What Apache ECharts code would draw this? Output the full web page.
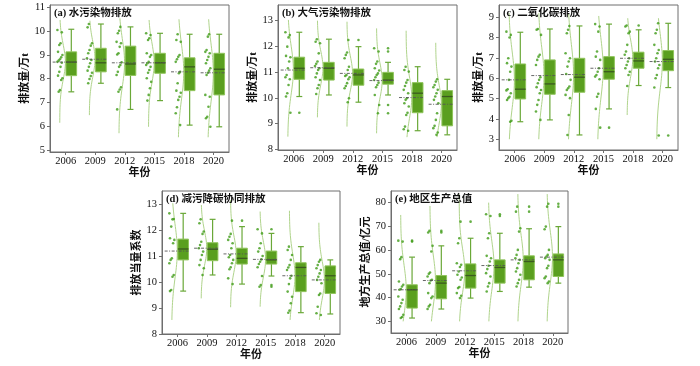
<!DOCTYPE html>
<html><head><meta charset="utf-8">
<script src="https://cdn.jsdelivr.net/npm/echarts@6/dist/echarts.min.js"></script>
<style>html,body{margin:0;padding:0;background:#fff}#c{width:700px;height:366px}</style>
</head><body><div id="c"></div>
<script>
const years = ['2006','2009','2012','2015','2018','2020'];

// (a) 水污染物排放
const aDots = [
  [10.05,9.95,9.49,9.42,9.13,9.0,8.9,8.82,8.76,8.71,8.67,8.5,8.29,8.13,8.02,7.95,7.52,7.45],
  [10.3,10.16,9.49,9.39,9.21,9.07,8.86,8.79,8.65,8.5,8.34,8.25,8.11,7.99,7.81],
  [10.18,10.02,9.91,9.55,9.49,9.34,9.07,9.02,8.69,8.58,8.5,8.29,8.16,7.64,7.55,7.45,6.71],
  [9.91,9.84,9.7,9.63,9.07,9.0,8.92,8.71,8.65,8.58,8.5,8.37,8.25,8.02,7.87,7.6,7.32,7.08],
  [9.87,9.63,9.55,9.0,8.92,8.82,8.71,8.29,8.23,7.81,7.5,7.41,7.24,7.11,6.8,6.55,6.05],
  [9.87,9.77,9.21,9.13,9.07,8.92,8.79,8.65,8.44,8.34,8.25,8.16,7.32,7.24,6.82,6.4,6.34,5.98]
];
const aBox = [[7.45,8.13,8.7,9.13,10.08],[7.81,8.29,8.67,9.28,10.3],[6.71,8.14,8.62,9.37,10.18],[7.08,8.23,8.67,9.07,9.91],[6.05,7.5,8.5,8.88,9.87],[5.98,7.32,8.4,9.07,9.87]];
const aMean = [8.7,8.82,8.67,8.67,8.29,8.25];
const aOut = [[],[],[],[],[],[]];
const aCurve = [[6.15,10.47],[6.47,10.44],[5.71,10.54],[5.98,10.47],[5.54,10.5],[5.54,10.5]];
const aTicks = [5,6,7,8,9,10,11];

// (b) 大气污染物排放
const bDots = [
  [12.55,12.44,12.35,11.99,11.63,11.58,11.41,11.15,10.89,10.8,10.72,10.5,10.18,10.05,9.42],
  [12.28,12.18,12.12,11.73,11.41,11.32,11.24,11.15,11.08,10.95,10.8,10.69,10.5,10.37,10.15],
  [12.25,11.76,11.67,11.54,11.21,11.08,10.89,10.85,10.8,10.72,10.57,10.46,10.37,9.98,9.83],
  [11.93,11.8,11.41,11.32,11.15,11.06,10.95,10.89,10.8,10.69,10.59,10.5,10.41,10.11,9.72,9.4],
  [11.21,11.08,11.02,10.69,10.59,10.46,10.31,10.18,9.98,9.92,9.79,9.66,9.42,9.33,8.88,8.78,8.72],
  [10.72,10.63,10.5,10.41,10.31,10.18,10.05,9.92,9.79,9.4,9.14,8.91,8.82,8.65,8.56]
];
const bBox = [[10.05,10.72,11.15,11.58,12.55],[10.11,10.69,11.15,11.38,12.28],[9.83,10.49,10.89,11.12,11.99],[10.11,10.53,10.69,10.99,11.38],[8.72,9.42,10.18,10.59,11.21],[8.56,8.91,10.05,10.28,10.72]];
const bMean = [11.08,11.17,10.95,10.67,10.01,9.75];
const bOut = [[9.42],[],[12.25],[11.93,11.8,9.72,9.4],[],[]];
const bCurve = [[8.49,13.03],[9.24,13.0],[8.88,12.96],[8.62,12.7],[8.47,12.61],[8.47,12.14]];
const bTicks = [8,9,10,11,12,13];

// (c) 二氧化碳排放
const cDots = [
  [8.29,8.13,8.0,6.98,6.74,6.57,6.32,5.92,5.46,5.4,5.26,5.09,5.02,4.93,3.91,3.86],
  [8.42,8.38,8.13,7.15,7.06,6.9,6.65,6.05,5.92,5.75,5.56,5.42,5.26,4.93,4.69,4.36,3.95],
  [8.57,8.38,8.21,7.23,6.98,6.82,6.57,6.21,5.92,5.59,5.51,5.42,5.18,5.02,4.19,3.21],
  [8.66,8.54,8.29,7.31,7.06,6.9,6.49,6.32,6.16,6.08,5.95,5.23,5.09,4.49,3.57],
  [8.59,8.54,8.29,8.21,7.64,7.31,7.15,6.98,6.82,6.65,6.49,6.32,6.16,5.62],
  [8.7,8.38,8.21,7.64,7.39,7.23,6.98,6.82,6.65,6.49,6.16,6.0,5.54,3.18]
];
const cBox = [[3.86,4.98,5.46,6.7,8.26],[3.95,5.21,5.72,6.9,8.42],[3.21,5.31,6.05,6.98,8.57],[4.49,5.95,6.32,7.06,8.66],[5.64,6.49,6.85,7.28,8.38],[5.54,6.37,6.93,7.36,8.7]];
const cMean = [5.92,6.13,6.18,6.49,6.98,6.82];
const cOut = [[],[],[],[3.57],[8.59],[3.18]];
const cCurve = [[3.0,9.2],[3.0,9.2],[3.0,9.2],[3.0,9.06],[4.19,8.95],[3.0,8.95]];
const cTicks = [3,4,5,6,7,8,9];

// (d) 减污降碳协同排放
const dDots = [
  [12.64,12.42,12.41,12.13,11.68,11.62,11.49,10.91,10.85,10.72,10.27,10.2,9.69,9.65],
  [12.41,12.26,11.94,11.85,11.55,11.42,11.3,11.17,11.04,10.85,10.65,10.53,10.27],
  [12.36,11.85,11.74,11.62,11.49,11.3,11.04,10.95,10.85,10.72,10.57,10.49,10.14,9.92],
  [12.03,11.87,11.49,11.3,11.17,11.0,10.87,10.78,10.69,10.57,10.23,9.88,9.82],
  [11.36,11.23,11.04,10.85,10.65,10.56,10.46,10.24,10.14,9.92,9.63,9.43,9.18,8.9,8.82],
  [10.85,10.78,10.65,10.53,10.46,10.33,10.2,10.08,9.95,9.56,9.5,9.05,8.8,8.73]
];
const dBox = [[9.65,10.85,11.27,11.65,12.64],[10.27,10.82,11.26,11.51,12.41],[9.92,10.69,10.91,11.3,12.13],[10.23,10.69,10.85,11.19,11.87],[8.82,9.63,10.56,10.74,11.36],[8.77,9.56,10.24,10.62,10.85]];
const dMean = [11.19,11.3,11.08,10.87,10.24,10.08];
const dOut = [[],[],[12.36],[12.03,9.88,9.82],[],[]];
const dCurve = [[8.54,13.03],[9.37,12.96],[9.03,13.15],[9.05,12.71],[8.54,12.74],[8.54,12.28]];
const dTicks = [8,9,10,11,12,13];

// (e) 地区生产总值
const eDots = [
  [64.0,63.6,57.05,56.2,46.8,45.4,44.7,43.6,43.3,40.5,39.1,37.7,36.3,35.2,32.8,31.85,31.4],
  [68.1,67.4,61.8,59.4,50.6,50.0,48.9,47.5,47.2,46.1,41.9,40.5,39.8,37.0,36.3,35.2],
  [72.0,65.0,62.9,54.5,53.8,52.9,51.0,49.6,48.5,47.5,44.5,44.0,41.9,40.8,39.8],
  [75.1,74.4,67.1,65.0,57.6,56.6,55.2,53.4,52.0,50.3,48.9,46.1,44.7,42.6],
  [78.3,76.2,69.2,67.8,60.1,58.0,56.6,55.9,54.5,52.4,51.0,49.6,47.5,46.1,44.7],
  [79.5,78.3,69.9,68.8,60.1,58.0,57.3,56.6,55.9,53.4,52.4,48.9,48.2,46.8,46.1]
];
const eBox = [[31.4,35.6,43.3,45.4,57.05],[35.2,39.5,46.1,49.3,61.8],[39.8,44.0,49.3,54.2,65.0],[42.6,46.1,52.7,55.9,67.1],[44.4,47.5,55.2,57.6,69.0],[46.1,48.9,55.9,58.4,69.9]];
const eMean = [43.3,47.2,51.3,53.5,55.9,57.05];
const eOut = [[64.0,63.6],[68.1,67.4],[72.0],[75.1,74.4],[78.3,76.2],[79.5,78.3]];
const eCurve = [[30,74.8],[30,78.6],[30,83.6],[30,80],[30,83.6],[30,83.6]];
const eTicks = [30,40,50,60,70,80];

const FONT = "'Liberation Serif','Noto Sans CJK SC',serif";
const panels = [
  {title:'(a) 水污染物排放', yName:'排放量/万t', dots:aDots, box:aBox, mean:aMean, out:aOut, curve:aCurve, ticks:aTicks, g:[50,5,179,147], ymin:4.92, ymax:11.1, ng:11},
  {title:'(b) 大气污染物排放', yName:'排放量/万t', dots:bDots, box:bBox, mean:bMean, out:bOut, curve:bCurve, ticks:bTicks, g:[278,5,179,145], ymin:7.97, ymax:13.61, ng:11},
  {title:'(c) 二氧化碳排放', yName:'排放量/万t', dots:cDots, box:cBox, mean:cMean, out:cOut, curve:cCurve, ticks:cTicks, g:[499,5,179,145], ymin:2.47, ymax:9.6, ng:11},
  {title:'(d) 减污降碳协同排放', yName:'排放当量系数', dots:dDots, box:dBox, mean:dMean, out:dOut, curve:dCurve, ticks:dTicks, g:[162,191,178,143], ymin:8.0, ymax:13.5, ng:13},
  {title:'(e) 地区生产总值', yName:'地方生产总值/亿元', dots:eDots, box:eBox, mean:eMean, out:eOut, curve:eCurve, ticks:eTicks, g:[391,191,177,142], ymin:25.1, ymax:84.9, ng:14}
];

const FRAME = '#6e6e6e';
const C_BOX = '#5a9f1f', C_BOXB = '#8fc45a', C_WH = '#6aa838', C_MED = '#3b5a1f', C_MEAN = '#555555';
const C_DOT = '#3f9b17', C_CURVE = '#b0d48c';
const XMIN = -0.53, XMAX = 5.52;
const BOX_OFF = 0.19, BOX_HW = 0.18, CAP_HW = 0.1;

function sdOf(a){const m=a.reduce((s,v)=>s+v,0)/a.length;return Math.sqrt(a.reduce((s,v)=>s+(v-m)*(v-m),0)/(a.length-1));}

function renderBox(params, api){
  const i = api.value(0), c = i + BOX_OFF;
  const pt = (x, y) => api.coord([x, y]);
  const yMin = pt(c, api.value(1))[1], yQ1 = pt(c, api.value(2))[1], yMed = pt(c, api.value(3))[1];
  const yQ3 = pt(c, api.value(4))[1], yMax = pt(c, api.value(5))[1], yMean = pt(c, api.value(6))[1];
  const xc = pt(c, 0)[0], xl = pt(c - BOX_HW, 0)[0], xr = pt(c + BOX_HW, 0)[0];
  const cl = pt(c - CAP_HW, 0)[0], cr = pt(c + CAP_HW, 0)[0];
  const xm0 = pt(i - 0.44, 0)[0];
  const ln = (x1,y1,x2,y2,style) => ({type:'line', shape:{x1,y1,x2,y2}, style});
  const ws = {stroke:C_WH, lineWidth:1.2};
  return {type:'group', children:[
    ln(xc,yMax,xc,yQ3,ws), ln(xc,yQ1,xc,yMin,ws),
    ln(cl,yMax,cr,yMax,ws), ln(cl,yMin,cr,yMin,ws),
    {type:'rect', shape:{x:xl, y:yQ3, width:xr-xl, height:yQ1-yQ3}, style:{fill:C_BOX, stroke:C_BOXB, lineWidth:1}},
    ln(xl,yMed,xr,yMed,{stroke:C_MED, lineWidth:1.3}),
    ln(xm0,yMean,xr,yMean,{stroke:C_MEAN, lineWidth:0.9, lineDash:[3,1.5,1,1.5]})
  ]};
}

const grids=[], xAxes=[], yAxes=[], series=[], titles=[];
const xTicks = [0,1,2,3,4,5];
panels.forEach((P,k)=>{
  grids.push({left:P.g[0], top:P.g[1], width:P.g[2], height:P.g[3], show:true, borderColor:FRAME, borderWidth:1, backgroundColor:'transparent'});
  xAxes.push({gridIndex:k, type:'value', min:XMIN, max:XMAX, name:'年份', nameLocation:'middle', nameGap:16,
    nameTextStyle:{fontFamily:FONT, fontSize:11, fontWeight:'bold', color:'#111'},
    axisLine:{onZero:false, lineStyle:{color:FRAME}},
    axisTick:{customValues:xTicks, length:3, lineStyle:{color:FRAME}},
    axisLabel:{customValues:xTicks, formatter:v=>years[Math.round(v)], margin:4, fontFamily:FONT, fontSize:10.5, color:'#111'},
    splitLine:{show:false}});
  yAxes.push({gridIndex:k, type:'value', min:P.ymin, max:P.ymax, name:P.yName, nameLocation:'middle', nameRotate:90, nameGap:P.ng,
    nameTextStyle:{fontFamily:FONT, fontSize:11, fontWeight:'bold', color:'#111'},
    axisLine:{onZero:false, lineStyle:{color:FRAME}},
    axisTick:{customValues:P.ticks, length:3, lineStyle:{color:FRAME}},
    axisLabel:{customValues:P.ticks, margin:5, fontFamily:FONT, fontSize:10.5, color:'#111'},
    splitLine:{show:false}});
  titles.push({text:P.title, left:P.g[0]+4, top:P.g[1]+3, padding:0,
    textStyle:{fontFamily:FONT, fontSize:10.5, fontWeight:'bold', color:'#111'}});

  // density curves
  P.dots.forEach((arr,i)=>{
    const m = P.mean[i], s = sdOf(arr);
    const [lo,hi] = P.curve[i];
    const pts = [];
    const N = 80;
    for(let n=0;n<=N;n++){
      const v = lo + (hi-lo)*n/N;
      pts.push([i - 0.2 + 0.19*Math.exp(-0.5*((v-m)/s)*((v-m)/s)), v]);
    }
    series.push({type:'line', xAxisIndex:k, yAxisIndex:k, data:pts, symbol:'none', smooth:false, silent:true, animation:false,
      lineStyle:{color:C_CURVE, width:1}, z:1});
  });

  // jittered dots
  const dotData = [];
  P.dots.forEach((arr,i)=>arr.forEach((v,j)=>{
    const jit = ((j*7 + i*3) % 9) / 8;
    dotData.push([i - 0.28 + 0.17*jit, v]);
  }));
  series.push({type:'scatter', xAxisIndex:k, yAxisIndex:k, data:dotData, symbolSize:2.6, itemStyle:{color:C_DOT}, silent:true, animation:false, z:3});

  // box plots
  const boxData = P.box.map((b,i)=>[i, b[0], b[1], b[2], b[3], b[4], P.mean[i]]);
  series.push({type:'custom', xAxisIndex:k, yAxisIndex:k, data:boxData, renderItem:renderBox,
    encode:{x:0, y:[1,2,3,4,5,6]}, silent:true, animation:false, z:4});

  // outliers at box
  const outData = [];
  P.out.forEach((arr,i)=>arr.forEach(v=>outData.push([i + BOX_OFF, v])));
  series.push({type:'scatter', xAxisIndex:k, yAxisIndex:k, data:outData, symbolSize:2.6, itemStyle:{color:C_DOT}, silent:true, animation:false, z:5});
});

const chart = echarts.init(document.getElementById('c'));
chart.setOption({animation:false, backgroundColor:'#fff', title:titles, grid:grids, xAxis:xAxes, yAxis:yAxes, series});
</script>
</body></html>
